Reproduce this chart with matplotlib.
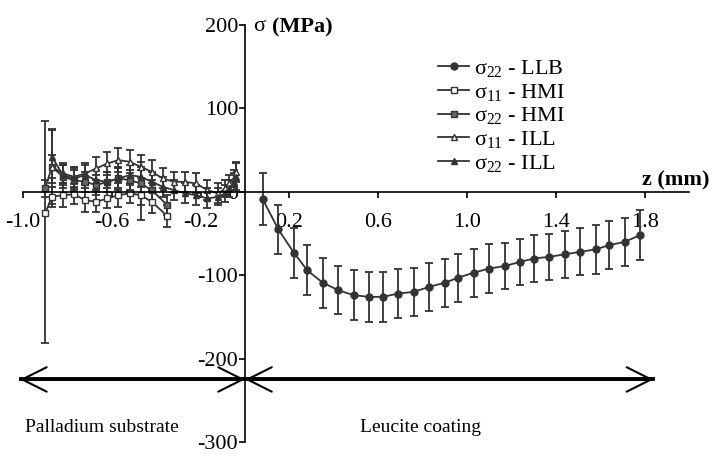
import numpy as np
import matplotlib.pyplot as plt
from matplotlib.lines import Line2D

plt.rcParams['font.family'] = ['Liberation Serif', 'DejaVu Serif']
plt.rcParams['mathtext.fontset'] = 'custom'
plt.rcParams['mathtext.rm'] = 'Liberation Serif'
plt.rcParams['mathtext.it'] = 'Liberation Serif'
plt.rcParams['axes.unicode_minus'] = False
plt.rcParams['font.size'] = 16

# leucite coating side, sigma22 LLB
z_llb = [0.08, 0.15, 0.22, 0.28, 0.35, 0.42, 0.49, 0.56, 0.62, 0.69, 0.76, 0.83, 0.90,
         0.96, 1.03, 1.10, 1.17, 1.24, 1.30, 1.37, 1.44, 1.51, 1.58, 1.64, 1.71, 1.78]
s22_llb = [-9, -45, -73, -94, -109, -118, -124, -126, -126, -122, -120, -114, -109,
           -103, -97, -92, -89, -84, -80, -78, -75, -72, -69, -64, -60, -52]
e22_llb = [31, 29, 30, 30, 30, 29, 30, 30, 30, 29, 29, 29, 29,
           29, 29, 29, 28, 28, 28, 28, 28, 28, 29, 29, 29, 30]

# palladium substrate side, HMI
z_hmi = [-0.90, -0.87, -0.82, -0.77, -0.72, -0.67, -0.62, -0.57, -0.52, -0.47, -0.42, -0.35]
s11_hmi = [-26, -6, -4, -3, -10, -12, -8, -4, -2, -4, -12, -29]
e11_hmi_lo = [155, 12, 14, 12, 14, 12, 12, 14, 12, 30, 14, 13]
e11_hmi_hi = [111, 12, 14, 12, 14, 12, 12, 14, 12, 30, 14, 13]
s22_hmi = [4, 30, 18, 14, 12, 8, 12, 16, 14, 10, 2, -16]
e22_hmi = [10, 45, 14, 12, 12, 12, 12, 14, 12, 26, 12, 12]

# palladium substrate side, ILL
z_ill = [-0.87, -0.82, -0.77, -0.72, -0.67, -0.62, -0.57, -0.52, -0.47, -0.42,
         -0.37, -0.32, -0.27, -0.22, -0.17, -0.12, -0.09, -0.07, -0.05, -0.04]
s11_ill = [30, 22, 18, 22, 28, 34, 38, 36, 30, 24, 16, 12, 12, 10, 2, -2, 4, 10, 16, 24]
e11_ill = [14, 12, 12, 12, 14, 14, 14, 14, 14, 14, 12, 12, 12, 12, 12, 12, 10, 10, 10, 12]
s22_ill = [42, 20, 16, 20, 14, 12, 16, 20, 18, 12, 6, 2, -2, -4, -8, -6, -2, 4, 12, 18]
e22_ill = [32, 12, 12, 12, 12, 12, 12, 12, 12, 12, 12, 12, 12, 12, 12, 10, 10, 10, 10, 16]

labels = ['σ$_{22}$ - LLB', 'σ$_{11}$ - HMI', 'σ$_{22}$ - HMI', 'σ$_{11}$ - ILL', 'σ$_{22}$ - ILL']
xticks = [-1.0, -0.6, -0.2, 0.2, 0.6, 1.0, 1.4, 1.8]
yticks = [-300, -200, -100, 0, 100, 200]

dark = '#333333'
styles = [('o', dark, 5), ('s', 'white', 4.5), ('s', '#666666', 4.5),
          ('^', 'white', 5), ('^', dark, 5)]

fig = plt.figure(figsize=(7.13, 4.54), dpi=100)
ax = fig.add_axes([23 / 713, 12 / 454, 666 / 713, 417 / 454])

eb = dict(color=dark, ecolor=dark, lw=1.3, elinewidth=1.3, capsize=3, capthick=1.3, mec=dark)
series = [(z_llb, s22_llb, e22_llb),
          (z_hmi, s11_hmi, [e11_hmi_lo, e11_hmi_hi]),
          (z_hmi, s22_hmi, e22_hmi),
          (z_ill, s11_ill, e11_ill),
          (z_ill, s22_ill, e22_ill)]
handles = []
for (x, y, e), (m, fc, ms), lab in zip(series, styles, labels):
    ax.errorbar(x, y, yerr=e, marker=m, ms=ms, mfc=fc, **eb)
    handles.append(Line2D([], [], color=dark, lw=1.3, marker=m, ms=ms, mfc=fc, mec=dark))

ax.set_xlim(-1.0, 2.0)
ax.set_ylim(-300, 200)
ax.spines['left'].set_position(('data', 0))
ax.spines['bottom'].set_position(('data', 0))
ax.spines['top'].set_visible(False)
ax.spines['right'].set_visible(False)
for s in ['left', 'bottom']:
    ax.spines[s].set_linewidth(1.2)
ax.set_xticks(xticks)
ax.set_xticklabels(['%.1f' % v for v in xticks])
ax.set_yticks(yticks)
ax.tick_params(axis='x', direction='out', length=4, width=1.2, pad=11, labelsize=16)
ax.tick_params(axis='y', direction='out', length=4, width=1.2, pad=1, labelsize=16)
ax.patch.set_alpha(0)

ax.text(0.035, 198, 'σ', fontsize=16, va='center', ha='left')
ax.text(0.12, 197, '(MPa)', fontsize=16, fontweight='bold', va='center', ha='left')
ax.text(1.79, 13, 'z (mm)', fontsize=16, fontweight='bold', va='center', ha='left')

# substrate / coating arrows
head = '<->,head_length=1.1,head_width=0.55'
ax.annotate('', xy=(-1.014, -225), xytext=(0, -225),
            arrowprops=dict(arrowstyle=head, lw=1.5, color='black', shrinkA=0, shrinkB=0),
            annotation_clip=False)
ax.annotate('', xy=(0, -225), xytext=(1.84, -225),
            arrowprops=dict(arrowstyle=head, lw=1.5, color='black', shrinkA=0, shrinkB=0))
ax.plot([-1.01, 1.84], [-225, -225], color='black', lw=2.8, clip_on=False)

ax.text(-0.99, -283, 'Palladium substrate', fontsize=14, va='center', ha='left')
ax.text(0.79, -283, 'Leucite coating', fontsize=14, va='center', ha='center')

ax.legend(handles, labels, loc='upper left', bbox_to_anchor=(438 / 713, 1 - 58 / 454),
          bbox_transform=fig.transFigure, frameon=False, fontsize=16,
          borderpad=0, borderaxespad=0, handlelength=1.4, handletextpad=0.2,
          labelspacing=0.12)

fig.savefig('out.png', dpi=100)
